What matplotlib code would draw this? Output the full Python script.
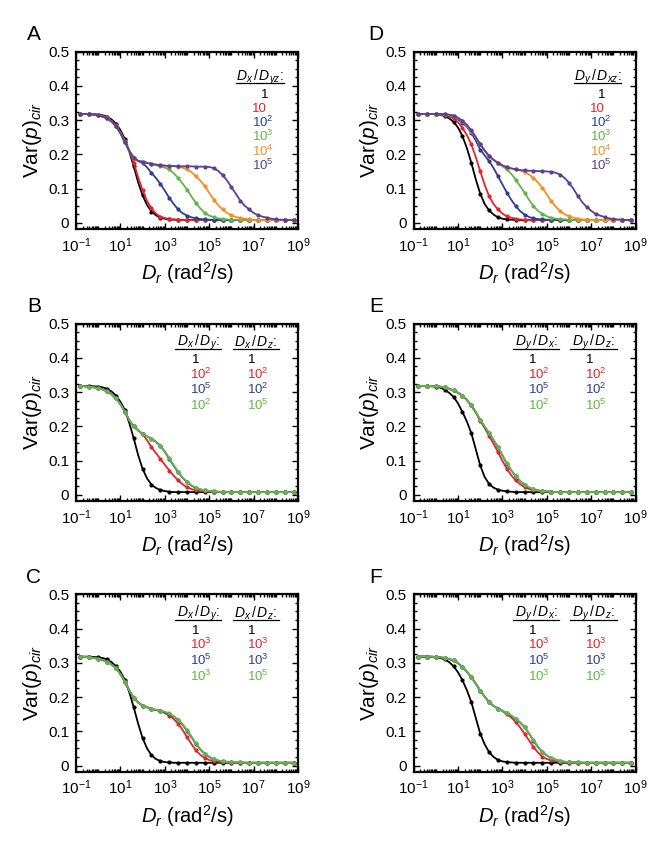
import matplotlib
matplotlib.use("Agg")
import matplotlib.pyplot as plt
from matplotlib.ticker import FixedLocator, LogLocator, NullFormatter, FuncFormatter, AutoMinorLocator
import numpy as np

plt.rcParams['font.family'] = ['Liberation Sans', 'DejaVu Sans']
plt.rcParams['mathtext.fontset'] = 'custom'
plt.rcParams['mathtext.rm'] = 'Liberation Sans'
plt.rcParams['mathtext.it'] = 'Liberation Sans:italic'
plt.rcParams['mathtext.bf'] = 'Liberation Sans:bold'

# log10 of D_r at the sampled points
log_dr = [-0.8, -0.6, -0.4, -0.2, 0.0, 0.2, 0.4,
          0.6, 0.8, 1.0, 1.2, 1.4, 1.6, 1.8,
          2.0, 2.2, 2.4, 2.6, 2.8, 3.0, 3.2,
          3.4, 3.6, 3.8, 4.0, 4.2, 4.4, 4.6,
          4.8, 5.0, 5.2, 5.4, 5.6, 5.8, 6.0,
          6.2, 6.4, 6.6, 6.8, 7.0, 7.2, 7.4,
          7.6, 7.8, 8.0, 8.2, 8.4, 8.6, 8.8]

# ---- panel A: D_x / D_yz = 1, 10, 1e2, 1e3, 1e4, 1e5
a_1 = [0.318, 0.318, 0.318, 0.317, 0.316, 0.314, 0.310,
       0.302, 0.290, 0.271, 0.245, 0.208, 0.165, 0.118,
       0.080, 0.052, 0.033, 0.022, 0.015, 0.012, 0.010,
       0.009, 0.009, 0.008, 0.008, 0.008, 0.008, 0.008,
       0.008, 0.008, 0.008, 0.008, 0.008, 0.008, 0.008,
       0.008, 0.008, 0.008, 0.008, 0.008, 0.008, 0.008,
       0.008, 0.008, 0.008, 0.008, 0.008, 0.008, 0.008]
a_10 = [0.318, 0.318, 0.318, 0.317, 0.315, 0.312, 0.307,
        0.298, 0.285, 0.265, 0.240, 0.210, 0.175, 0.133,
        0.095, 0.064, 0.042, 0.027, 0.018, 0.014, 0.011,
        0.010, 0.009, 0.008, 0.008, 0.008, 0.008, 0.008,
        0.008, 0.008, 0.008, 0.008, 0.008, 0.008, 0.008,
        0.008, 0.008, 0.008, 0.008, 0.008, 0.008, 0.008,
        0.008, 0.008, 0.008, 0.008, 0.008, 0.008, 0.008]
a_1e2 = [0.318, 0.318, 0.317, 0.316, 0.314, 0.310, 0.305,
         0.296, 0.282, 0.262, 0.236, 0.210, 0.190, 0.180,
         0.175, 0.162, 0.146, 0.131, 0.114, 0.094, 0.073,
         0.055, 0.039, 0.028, 0.021, 0.016, 0.013, 0.011,
         0.010, 0.009, 0.009, 0.008, 0.008, 0.008, 0.008,
         0.008, 0.008, 0.008, 0.008, 0.008, 0.008, 0.008,
         0.008, 0.008, 0.008, 0.008, 0.008, 0.008, 0.008]
a_1e3 = [0.318, 0.318, 0.317, 0.316, 0.314, 0.310, 0.305,
         0.296, 0.282, 0.262, 0.236, 0.210, 0.190, 0.181,
         0.178, 0.175, 0.172, 0.168, 0.165, 0.161, 0.156,
         0.145, 0.131, 0.115, 0.097, 0.077, 0.058, 0.042,
         0.029, 0.021, 0.017, 0.013, 0.011, 0.010, 0.009,
         0.009, 0.008, 0.008, 0.008, 0.008, 0.008, 0.008,
         0.008, 0.008, 0.008, 0.008, 0.008, 0.008, 0.008]
a_1e4 = [0.318, 0.318, 0.317, 0.316, 0.314, 0.310, 0.305,
         0.296, 0.282, 0.262, 0.236, 0.210, 0.190, 0.181,
         0.178, 0.175, 0.172, 0.170, 0.168, 0.167, 0.166,
         0.165, 0.164, 0.161, 0.156, 0.148, 0.136, 0.123,
         0.107, 0.088, 0.068, 0.052, 0.039, 0.029, 0.022,
         0.017, 0.014, 0.012, 0.010, 0.009, 0.008, 0.008,
         0.008, 0.008, 0.008, 0.008, 0.008, 0.008, 0.008]
a_1e5 = [0.318, 0.318, 0.317, 0.316, 0.314, 0.310, 0.305,
         0.296, 0.282, 0.262, 0.236, 0.210, 0.190, 0.181,
         0.178, 0.175, 0.172, 0.170, 0.168, 0.167, 0.166,
         0.166, 0.165, 0.165, 0.165, 0.165, 0.164, 0.164,
         0.164, 0.163, 0.160, 0.152, 0.140, 0.124, 0.104,
         0.085, 0.065, 0.050, 0.039, 0.029, 0.022, 0.018,
         0.015, 0.012, 0.010, 0.009, 0.009, 0.008, 0.008]

# ---- panel D: D_y / D_xz = 1, 10, 1e2, 1e3, 1e4, 1e5
d_1 = [0.318, 0.318, 0.318, 0.318, 0.317, 0.315, 0.312,
       0.305, 0.295, 0.278, 0.253, 0.218, 0.175, 0.127,
       0.085, 0.055, 0.036, 0.024, 0.016, 0.012, 0.010,
       0.009, 0.009, 0.008, 0.008, 0.008, 0.008, 0.008,
       0.008, 0.008, 0.008, 0.008, 0.008, 0.008, 0.008,
       0.008, 0.008, 0.008, 0.008, 0.008, 0.008, 0.008,
       0.008, 0.008, 0.008, 0.008, 0.008, 0.008, 0.008]
d_10 = [0.318, 0.318, 0.318, 0.318, 0.317, 0.316, 0.314,
        0.310, 0.305, 0.294, 0.277, 0.256, 0.229, 0.192,
        0.151, 0.111, 0.078, 0.055, 0.039, 0.027, 0.019,
        0.015, 0.012, 0.010, 0.009, 0.008, 0.008, 0.008,
        0.008, 0.008, 0.008, 0.008, 0.008, 0.008, 0.008,
        0.008, 0.008, 0.008, 0.008, 0.008, 0.008, 0.008,
        0.008, 0.008, 0.008, 0.008, 0.008, 0.008, 0.008]
d_1e2 = [0.318, 0.318, 0.318, 0.318, 0.318, 0.317, 0.316,
         0.314, 0.310, 0.302, 0.292, 0.280, 0.263, 0.240,
         0.214, 0.197, 0.180, 0.160, 0.136, 0.112, 0.088,
         0.067, 0.049, 0.034, 0.024, 0.017, 0.013, 0.011,
         0.010, 0.009, 0.009, 0.008, 0.008, 0.008, 0.008,
         0.008, 0.008, 0.008, 0.008, 0.008, 0.008, 0.008,
         0.008, 0.008, 0.008, 0.008, 0.008, 0.008, 0.008]
d_1e3 = [0.318, 0.318, 0.318, 0.318, 0.318, 0.317, 0.317,
         0.315, 0.312, 0.306, 0.297, 0.284, 0.268, 0.249,
         0.229, 0.211, 0.195, 0.184, 0.175, 0.165, 0.156,
         0.143, 0.126, 0.107, 0.088, 0.067, 0.049, 0.035,
         0.026, 0.019, 0.015, 0.012, 0.011, 0.010, 0.009,
         0.008, 0.008, 0.008, 0.008, 0.008, 0.008, 0.008,
         0.008, 0.008, 0.008, 0.008, 0.008, 0.008, 0.008]
d_1e4 = [0.318, 0.318, 0.318, 0.318, 0.318, 0.317, 0.317,
         0.315, 0.312, 0.306, 0.297, 0.284, 0.268, 0.249,
         0.229, 0.211, 0.195, 0.184, 0.175, 0.168, 0.162,
         0.159, 0.156, 0.153, 0.148, 0.141, 0.131, 0.118,
         0.102, 0.083, 0.063, 0.047, 0.034, 0.025, 0.019,
         0.015, 0.012, 0.010, 0.009, 0.008, 0.008, 0.008,
         0.008, 0.008, 0.008, 0.008, 0.008, 0.008, 0.008]
d_1e5 = [0.318, 0.318, 0.318, 0.318, 0.318, 0.318, 0.317,
         0.316, 0.313, 0.307, 0.298, 0.286, 0.270, 0.250,
         0.230, 0.211, 0.195, 0.184, 0.175, 0.168, 0.162,
         0.159, 0.156, 0.154, 0.153, 0.152, 0.152, 0.151,
         0.151, 0.150, 0.149, 0.146, 0.141, 0.131, 0.117,
         0.099, 0.078, 0.060, 0.046, 0.035, 0.026, 0.021,
         0.017, 0.013, 0.011, 0.010, 0.009, 0.008, 0.008]

# ---- panel B: (D_x/D_y, D_x/D_z) = (1,1), (1e2,1e2), (1e5,1e2), (1e2,1e5)
b_1 = [0.318, 0.318, 0.318, 0.317, 0.316, 0.314, 0.310,
       0.302, 0.290, 0.272, 0.248, 0.210, 0.165, 0.116,
       0.076, 0.048, 0.030, 0.020, 0.014, 0.011, 0.009,
       0.008, 0.008, 0.008, 0.008, 0.008, 0.008, 0.008,
       0.008, 0.008, 0.008, 0.008, 0.008, 0.008, 0.008,
       0.008, 0.008, 0.008, 0.008, 0.008, 0.008, 0.008,
       0.008, 0.008, 0.008, 0.008, 0.008, 0.008, 0.008]
b_red = [0.318, 0.317, 0.316, 0.314, 0.312, 0.308, 0.302,
         0.294, 0.282, 0.265, 0.243, 0.218, 0.200, 0.188,
         0.177, 0.160, 0.139, 0.122, 0.105, 0.088, 0.071,
         0.056, 0.042, 0.031, 0.022, 0.017, 0.013, 0.011,
         0.010, 0.009, 0.009, 0.008, 0.008, 0.008, 0.008,
         0.008, 0.008, 0.008, 0.008, 0.008, 0.008, 0.008,
         0.008, 0.008, 0.008, 0.008, 0.008, 0.008, 0.008]
b_blue = [0.318, 0.317, 0.316, 0.314, 0.312, 0.308, 0.302,
          0.294, 0.282, 0.265, 0.243, 0.218, 0.200, 0.188,
          0.178, 0.171, 0.164, 0.155, 0.144, 0.126, 0.105,
          0.085, 0.066, 0.050, 0.037, 0.027, 0.020, 0.016,
          0.013, 0.011, 0.010, 0.009, 0.009, 0.008, 0.008,
          0.008, 0.008, 0.008, 0.008, 0.008, 0.008, 0.008,
          0.008, 0.008, 0.008, 0.008, 0.008, 0.008, 0.008]
b_green = [0.318, 0.317, 0.316, 0.314, 0.312, 0.308, 0.302,
           0.294, 0.282, 0.265, 0.243, 0.218, 0.200, 0.188,
           0.178, 0.171, 0.163, 0.154, 0.143, 0.127, 0.107,
           0.087, 0.068, 0.051, 0.038, 0.028, 0.021, 0.016,
           0.013, 0.011, 0.010, 0.009, 0.009, 0.008, 0.008,
           0.008, 0.008, 0.008, 0.008, 0.008, 0.008, 0.008,
           0.008, 0.008, 0.008, 0.008, 0.008, 0.008, 0.008]

# ---- panel C: (D_x/D_y, D_x/D_z) = (1,1), (1e3,1e3), (1e5,1e3), (1e3,1e5)
c_1 = [0.318, 0.318, 0.318, 0.317, 0.316, 0.314, 0.310,
       0.302, 0.290, 0.274, 0.250, 0.214, 0.170, 0.122,
       0.080, 0.050, 0.030, 0.019, 0.013, 0.010, 0.009,
       0.008, 0.008, 0.008, 0.008, 0.008, 0.008, 0.008,
       0.008, 0.008, 0.008, 0.008, 0.008, 0.008, 0.008,
       0.008, 0.008, 0.008, 0.008, 0.008, 0.008, 0.008,
       0.008, 0.008, 0.008, 0.008, 0.008, 0.008, 0.008]
c_red = [0.318, 0.317, 0.316, 0.314, 0.312, 0.308, 0.303,
         0.295, 0.285, 0.267, 0.245, 0.219, 0.198, 0.184,
         0.175, 0.170, 0.166, 0.162, 0.159, 0.153, 0.146,
         0.136, 0.122, 0.104, 0.083, 0.063, 0.044, 0.031,
         0.022, 0.016, 0.013, 0.011, 0.010, 0.009, 0.009,
         0.008, 0.008, 0.008, 0.008, 0.008, 0.008, 0.008,
         0.008, 0.008, 0.008, 0.008, 0.008, 0.008, 0.008]
c_blue = [0.318, 0.317, 0.316, 0.314, 0.312, 0.308, 0.303,
          0.295, 0.285, 0.267, 0.245, 0.219, 0.198, 0.184,
          0.175, 0.170, 0.166, 0.162, 0.160, 0.156, 0.151,
          0.143, 0.133, 0.119, 0.102, 0.083, 0.063, 0.047,
          0.034, 0.025, 0.018, 0.014, 0.012, 0.011, 0.010,
          0.009, 0.009, 0.008, 0.008, 0.008, 0.008, 0.008,
          0.008, 0.008, 0.008, 0.008, 0.008, 0.008, 0.008]
c_green = [0.318, 0.317, 0.316, 0.314, 0.312, 0.308, 0.303,
           0.295, 0.285, 0.267, 0.245, 0.219, 0.198, 0.184,
           0.175, 0.170, 0.166, 0.163, 0.160, 0.157, 0.152,
           0.144, 0.134, 0.121, 0.104, 0.085, 0.065, 0.048,
           0.035, 0.026, 0.019, 0.015, 0.012, 0.011, 0.010,
           0.009, 0.009, 0.008, 0.008, 0.008, 0.008, 0.008,
           0.008, 0.008, 0.008, 0.008, 0.008, 0.008, 0.008]

# ---- panel E: (D_y/D_x, D_y/D_z) = (1,1), (1e2,1e2), (1e5,1e2), (1e2,1e5)
e_1 = [0.318, 0.318, 0.318, 0.317, 0.316, 0.313, 0.307,
       0.298, 0.286, 0.267, 0.242, 0.214, 0.180, 0.133,
       0.086, 0.052, 0.032, 0.021, 0.015, 0.012, 0.010,
       0.009, 0.008, 0.008, 0.008, 0.008, 0.008, 0.008,
       0.008, 0.008, 0.008, 0.008, 0.008, 0.008, 0.008,
       0.008, 0.008, 0.008, 0.008, 0.008, 0.008, 0.008,
       0.008, 0.008, 0.008, 0.008, 0.008, 0.008, 0.008]
e_red = [0.318, 0.318, 0.318, 0.318, 0.317, 0.316, 0.314,
         0.310, 0.305, 0.298, 0.290, 0.277, 0.261, 0.241,
         0.217, 0.195, 0.173, 0.149, 0.125, 0.099, 0.076,
         0.057, 0.042, 0.031, 0.022, 0.017, 0.013, 0.011,
         0.010, 0.009, 0.009, 0.008, 0.008, 0.008, 0.008,
         0.008, 0.008, 0.008, 0.008, 0.008, 0.008, 0.008,
         0.008, 0.008, 0.008, 0.008, 0.008, 0.008, 0.008]
e_blue = [0.318, 0.318, 0.318, 0.318, 0.317, 0.316, 0.314,
          0.310, 0.305, 0.298, 0.290, 0.277, 0.261, 0.241,
          0.218, 0.199, 0.180, 0.160, 0.139, 0.115, 0.091,
          0.071, 0.054, 0.040, 0.029, 0.021, 0.016, 0.013,
          0.011, 0.010, 0.009, 0.008, 0.008, 0.008, 0.008,
          0.008, 0.008, 0.008, 0.008, 0.008, 0.008, 0.008,
          0.008, 0.008, 0.008, 0.008, 0.008, 0.008, 0.008]
e_green = [0.318, 0.318, 0.318, 0.318, 0.317, 0.316, 0.314,
           0.310, 0.305, 0.298, 0.290, 0.277, 0.262, 0.242,
           0.219, 0.200, 0.181, 0.161, 0.140, 0.116, 0.092,
           0.072, 0.055, 0.041, 0.030, 0.022, 0.016, 0.013,
           0.011, 0.010, 0.009, 0.008, 0.008, 0.008, 0.008,
           0.008, 0.008, 0.008, 0.008, 0.008, 0.008, 0.008,
           0.008, 0.008, 0.008, 0.008, 0.008, 0.008, 0.008]

# ---- panel F: (D_y/D_x, D_y/D_z) = (1,1), (1e3,1e3), (1e5,1e3), (1e3,1e5)
f_1 = [0.318, 0.318, 0.318, 0.317, 0.316, 0.314, 0.310,
       0.302, 0.290, 0.272, 0.249, 0.220, 0.185, 0.139,
       0.093, 0.062, 0.039, 0.025, 0.016, 0.012, 0.010,
       0.009, 0.008, 0.008, 0.008, 0.008, 0.008, 0.008,
       0.008, 0.008, 0.008, 0.008, 0.008, 0.008, 0.008,
       0.008, 0.008, 0.008, 0.008, 0.008, 0.008, 0.008,
       0.008, 0.008, 0.008, 0.008, 0.008, 0.008, 0.008]
f_red = [0.318, 0.318, 0.318, 0.318, 0.317, 0.316, 0.314,
         0.311, 0.307, 0.299, 0.288, 0.274, 0.258, 0.239,
         0.219, 0.201, 0.185, 0.174, 0.166, 0.159, 0.150,
         0.140, 0.127, 0.111, 0.093, 0.073, 0.054, 0.038,
         0.026, 0.019, 0.015, 0.012, 0.010, 0.009, 0.009,
         0.008, 0.008, 0.008, 0.008, 0.008, 0.008, 0.008,
         0.008, 0.008, 0.008, 0.008, 0.008, 0.008, 0.008]
f_blue = [0.318, 0.318, 0.318, 0.318, 0.317, 0.316, 0.314,
          0.311, 0.307, 0.299, 0.288, 0.274, 0.258, 0.239,
          0.219, 0.201, 0.185, 0.174, 0.166, 0.160, 0.153,
          0.145, 0.136, 0.125, 0.112, 0.093, 0.073, 0.054,
          0.039, 0.029, 0.022, 0.017, 0.013, 0.011, 0.010,
          0.009, 0.009, 0.008, 0.008, 0.008, 0.008, 0.008,
          0.008, 0.008, 0.008, 0.008, 0.008, 0.008, 0.008]
f_green = [0.318, 0.318, 0.318, 0.318, 0.317, 0.316, 0.314,
           0.311, 0.307, 0.299, 0.288, 0.274, 0.258, 0.239,
           0.219, 0.201, 0.185, 0.174, 0.166, 0.160, 0.154,
           0.146, 0.137, 0.126, 0.113, 0.094, 0.074, 0.055,
           0.040, 0.030, 0.022, 0.017, 0.013, 0.011, 0.010,
           0.009, 0.009, 0.008, 0.008, 0.008, 0.008, 0.008,
           0.008, 0.008, 0.008, 0.008, 0.008, 0.008, 0.008]

BLACK = '#000000'
RED = '#e2252b'
BLUE = '#2d3f92'
GREEN = '#62b647'
ORANGE = '#f28f22'
PURPLE = '#5a3f98'

six_colors = [BLACK, RED, BLUE, GREEN, ORANGE, PURPLE]
four_colors = [BLACK, RED, BLUE, GREEN]
six_labels = ['1', '10', '$10^{2}$', '$10^{3}$', '$10^{4}$', '$10^{5}$']

panels = [
    dict(tag='A', col=0, row=0, series=[a_1, a_10, a_1e2, a_1e3, a_1e4, a_1e5], colors=six_colors,
         heads=[r'$D_x\,/\,D_{yz}$:'], cols=[six_labels]),
    dict(tag='D', col=1, row=0, series=[d_1, d_10, d_1e2, d_1e3, d_1e4, d_1e5], colors=six_colors,
         heads=[r'$D_y\,/\,D_{xz}$:'], cols=[six_labels]),
    dict(tag='B', col=0, row=1, series=[b_1, b_red, b_blue, b_green], colors=four_colors,
         heads=[r'$D_x\,/\,D_y$:', r'$D_x\,/\,D_z$:'],
         cols=[['1', '$10^{2}$', '$10^{5}$', '$10^{2}$'], ['1', '$10^{2}$', '$10^{2}$', '$10^{5}$']]),
    dict(tag='E', col=1, row=1, series=[e_1, e_red, e_blue, e_green], colors=four_colors,
         heads=[r'$D_y\,/\,D_x$:', r'$D_y\,/\,D_z$:'],
         cols=[['1', '$10^{2}$', '$10^{5}$', '$10^{2}$'], ['1', '$10^{2}$', '$10^{2}$', '$10^{5}$']]),
    dict(tag='C', col=0, row=2, series=[c_1, c_red, c_blue, c_green], colors=four_colors,
         heads=[r'$D_x\,/\,D_y$:', r'$D_x\,/\,D_z$:'],
         cols=[['1', '$10^{3}$', '$10^{5}$', '$10^{3}$'], ['1', '$10^{3}$', '$10^{3}$', '$10^{5}$']]),
    dict(tag='F', col=1, row=2, series=[f_1, f_red, f_blue, f_green], colors=four_colors,
         heads=[r'$D_y\,/\,D_x$:', r'$D_y\,/\,D_z$:'],
         cols=[['1', '$10^{3}$', '$10^{5}$', '$10^{3}$'], ['1', '$10^{3}$', '$10^{3}$', '$10^{5}$']]),
]

fig = plt.figure(figsize=(6.65, 8.56), dpi=100)
lefts = [0.1143, 0.622]
bottoms = [0.7325, 0.4147, 0.0985]
W, H = 0.3338, 0.2072

dr = 10 ** np.array(log_dr)


def xfmt(v, pos):
    return r'$10^{%d}$' % int(round(np.log10(v)))


def yfmt(v, pos):
    return '0' if abs(v) < 1e-9 else '%g' % v


for p in panels:
    ax = fig.add_axes([lefts[p['col']], bottoms[p['row']], W, H])
    for ys, c in zip(p['series'], p['colors']):
        ax.plot(dr, ys, color=c, lw=1.3, marker='o', ms=2.0, mec=c, mfc=c, markevery=2,
                solid_capstyle='round', solid_joinstyle='round')

    ax.set_xscale('log')
    ax.set_xlim(1e-1, 1e9)
    ax.set_ylim(-0.018, 0.5)
    ax.xaxis.set_major_locator(FixedLocator([1e-1, 1e1, 1e3, 1e5, 1e7, 1e9]))
    ax.xaxis.set_major_formatter(FuncFormatter(xfmt))
    ax.xaxis.set_minor_locator(LogLocator(base=10, subs=np.arange(1, 10), numticks=30))
    ax.xaxis.set_minor_formatter(NullFormatter())
    ax.set_yticks([0, 0.1, 0.2, 0.3, 0.4, 0.5])
    ax.yaxis.set_major_formatter(FuncFormatter(yfmt))
    ax.yaxis.set_minor_locator(AutoMinorLocator(4))
    ax.tick_params(which='both', direction='in', top=True, right=True, width=1.0)
    ax.tick_params(which='major', length=4.5, labelsize=11, pad=5)
    ax.tick_params(which='minor', length=2.2)
    for s in ax.spines.values():
        s.set_linewidth(1.6)

    ax.set_ylabel(r'Var($p$)$_{cir}$', fontsize=15, labelpad=3)
    ax.set_xlabel(r'$D_r$ (rad$^2$/s)', fontsize=14.5, labelpad=4)

    lx = -0.19 if p['col'] == 0 else -0.17
    ax.text(lx, 1.095, p['tag'], transform=ax.transAxes, fontsize=15, ha='center', va='center')

    if len(p['cols']) == 1:
        # one legend column (panels A and D)
        ax.text(0.829, 0.856, p['heads'][0], transform=ax.transAxes, fontsize=10, ha='center', va='center')
        ax.plot([0.722, 0.935], [0.822, 0.822], transform=ax.transAxes, color='black', lw=0.9, clip_on=False)
        ys_leg = [0.766, 0.684, 0.602, 0.520, 0.438, 0.356]
        for lab, c, yy in zip(p['cols'][0], p['colors'], ys_leg):
            if lab == '1':
                ax.text(0.848, yy - 0.026, lab, transform=ax.transAxes, fontsize=9.5, color=c,
                        ha='center', va='baseline')
            else:
                ax.text(0.793, yy - 0.026, lab, transform=ax.transAxes, fontsize=9.5, color=c,
                        ha='left', va='baseline')
    else:
        head_x = [0.552, 0.810]
        head_span = [(0.447, 0.655), (0.705, 0.915)]
        one_x = [0.537, 0.792]
        ten_x = [0.514, 0.772]
        ys_leg = [0.805, 0.715, 0.627, 0.539]
        for k in range(2):
            ax.text(head_x[k], 0.893, p['heads'][k], transform=ax.transAxes, fontsize=10,
                    ha='center', va='center')
            ax.plot(list(head_span[k]), [0.857, 0.857], transform=ax.transAxes, color='black',
                    lw=0.9, clip_on=False)
            for lab, c, yy in zip(p['cols'][k], p['colors'], ys_leg):
                if lab == '1':
                    ax.text(one_x[k], yy - 0.026, lab, transform=ax.transAxes, fontsize=9.5, color=c,
                            ha='center', va='baseline')
                else:
                    ax.text(ten_x[k], yy - 0.026, lab, transform=ax.transAxes, fontsize=9.5, color=c,
                            ha='left', va='baseline')

fig.savefig('out.png', dpi=100)
